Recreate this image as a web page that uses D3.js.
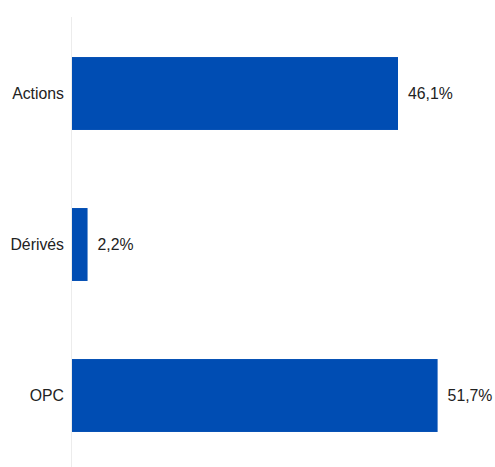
<!DOCTYPE html>
<html>
<head>
<meta charset="utf-8">
<script src="https://cdn.jsdelivr.net/npm/d3@7"></script>
<style>
html,body{margin:0;padding:0;background:#fff;}
svg{display:block;}
</style>
</head>
<body>
<svg id="chart" width="495" height="467"></svg>
<script>
const categories = ["Actions", "Dérivés", "OPC"];
const values = [46.1, 2.2, 51.7];
const valueLabels = ["46,1%", "2,2%", "51,7%"];

const svg = d3.select("#chart");
const W = 495, H = 467;
const x0 = 72;

const x = d3.scaleLinear().domain([0, 51.7]).range([x0, 437.6]);
const y = d3.scaleBand().domain(categories).range([18, 471])
  .paddingInner(0.517).paddingOuter(0.2585);

// axis line
svg.append("line")
  .attr("x1", x0 - 0.5).attr("x2", x0 - 0.5)
  .attr("y1", 17).attr("y2", H)
  .attr("stroke", "#ececec").attr("stroke-width", 1);

const data = categories.map((c, i) => ({c, v: values[i], l: valueLabels[i]}));

svg.selectAll("rect.bar").data(data).enter().append("rect")
  .attr("class", "bar")
  .attr("x", x(0))
  .attr("y", d => y(d.c))
  .attr("width", d => x(d.v) - x(0))
  .attr("height", y.bandwidth())
  .attr("fill", "#004db3");

svg.selectAll("text.cat").data(data).enter().append("text")
  .attr("class", "cat")
  .attr("x", x0 - 8)
  .attr("y", d => y(d.c) + y.bandwidth() / 2)
  .attr("dy", "0.35em")
  .attr("text-anchor", "end")
  .attr("font-family", "'Liberation Sans', Arial, sans-serif")
  .attr("font-size", 15.8)
  .attr("fill", "#222")
  .text(d => d.c);

svg.selectAll("text.val").data(data).enter().append("text")
  .attr("class", "val")
  .attr("x", d => x(d.v) + 10)
  .attr("y", d => y(d.c) + y.bandwidth() / 2)
  .attr("dy", "0.35em")
  .attr("text-anchor", "start")
  .attr("font-family", "'Liberation Sans', Arial, sans-serif")
  .attr("font-size", 15.8)
  .attr("fill", "#222")
  .text(d => d.l);
</script>
</body>
</html>
